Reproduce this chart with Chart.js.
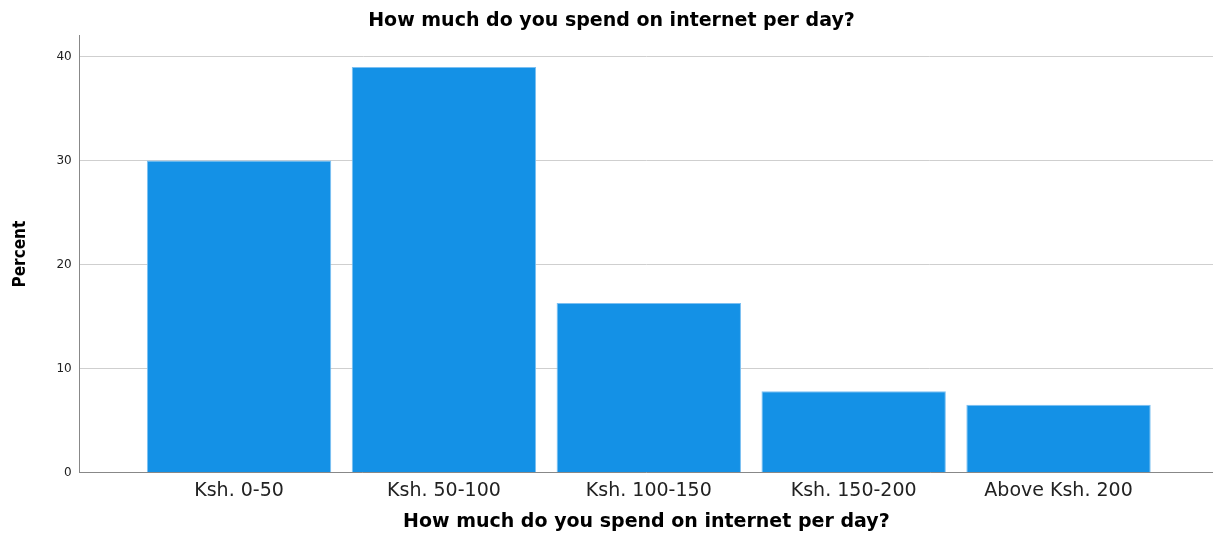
<!DOCTYPE html>
<html>
<head>
<meta charset="utf-8">
<script src="https://cdn.jsdelivr.net/npm/chart.js@4/dist/chart.umd.min.js"></script>
<style>
  html, body { margin: 0; padding: 0; background: #fff; }
  #wrap { width: 1213px; height: 536px; }
</style>
</head>
<body>
<div id="wrap"><canvas id="spend-chart-canvas" width="1213" height="536"></canvas></div>
<script>
const categories = ['Ksh. 0-50', 'Ksh. 50-100', 'Ksh. 100-150', 'Ksh. 150-200', 'Above Ksh. 200'];
const percents = [30.0, 39.0, 16.3, 7.8, 6.5];
const yTicks = [0, 10, 20, 30, 40];
const titleText = 'How much do you spend on internet per day?';

let spendCtx = document.getElementById('spend-chart-canvas').getContext('2d');

let spendChart = new Chart(spendCtx, {
    type: 'bar',
    data: {
        datasets: [{
            label: 'Percent',
            data: percents.map((p, i) => ({ x: i + 1, y: p })),
            backgroundColor: '#1491e6',
            borderColor: '#7cc0f2',
            borderWidth: 1,
            barPercentage: 0.9,
            categoryPercentage: 1.0
        }]
    },
    options: {
        responsive: false,
        animation: false,
        devicePixelRatio: 1,
        layout: {
            padding: { left: 10, right: 0, top: 0, bottom: 3 }
        },
        plugins: {
            legend: { display: false },
            tooltip: { enabled: false },
            title: {
                display: true,
                text: titleText,
                color: '#000',
                font: { family: 'DejaVu Sans', size: 19, weight: 'bold' },
                padding: { top: 10, bottom: 3 }
            }
        },
        scales: {
            x: {
                type: 'linear',
                offset: false,
                min: 0.222,
                max: 5.754,
                afterBuildTicks: (scale) => {
                    scale.ticks = categories.map((c, i) => ({ value: i + 1 }));
                },
                ticks: {
                    callback: (v) => categories[v - 1],
                    color: '#222',
                    font: { family: 'DejaVu Sans', size: 19 },
                    padding: 7,
                    maxRotation: 0,
                    autoSkip: false
                },
                grid: { display: false, drawTicks: false },
                border: { display: true, color: '#888', width: 1 },
                title: {
                    display: true,
                    text: titleText,
                    color: '#000',
                    font: { family: 'DejaVu Sans', size: 19, weight: 'bold' },
                    padding: { top: 1, bottom: 0 }
                }
            },
            y: {
                min: 0,
                max: 42,
                afterBuildTicks: (scale) => {
                    scale.ticks = yTicks.map(v => ({ value: v }));
                },
                ticks: {
                    color: '#222',
                    font: { family: 'DejaVu Sans', size: 12 },
                    padding: 8
                },
                grid: { color: '#cfcfcf', drawTicks: false },
                border: { display: true, color: '#888', width: 1 },
                title: {
                    display: true,
                    text: 'Percent',
                    color: '#000',
                    font: { family: 'Liberation Sans Narrow, DejaVu Sans Condensed, Liberation Sans', size: 17, weight: 'bold' },
                    padding: { top: 0, bottom: 18 }
                }
            }
        }
    }
});
</script>
</body>
</html>
